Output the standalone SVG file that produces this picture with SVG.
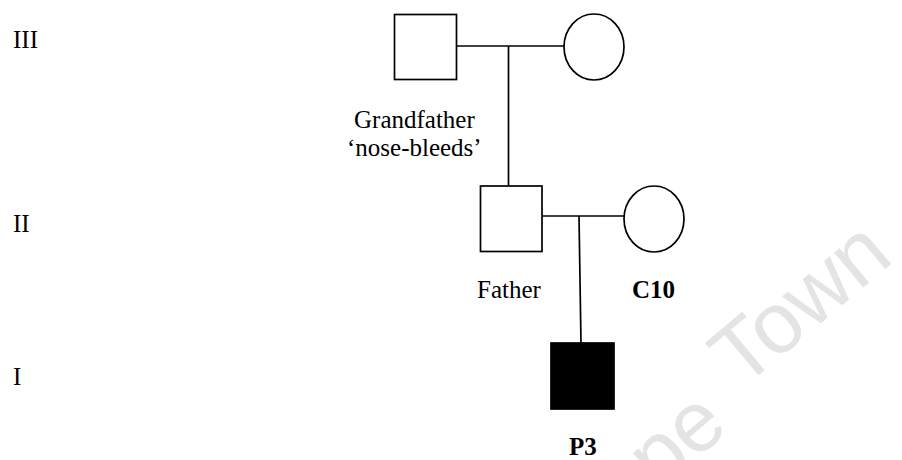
<svg xmlns="http://www.w3.org/2000/svg" width="902" height="460" viewBox="0 0 902 460">
  <style>
    .sym { fill: #fff; stroke: #000; stroke-width: 1.7; }
    .aff { fill: #000; stroke: #000; stroke-width: 1.7; }
    .line { stroke: #000; stroke-width: 1.7; fill: none; }
    .t { font-family: "Liberation Serif", "Times New Roman", serif; font-size: 25px; fill: #000; }
    .b { font-weight: bold; }
    .wm { font-family: "Liberation Sans", Arial, sans-serif; font-size: 86px; fill: #e4e4e4; }
  </style>
  <rect width="902" height="460" fill="#fff"/>
  <!-- faint watermark -->
  <g id="watermark">
    <text class="wm" transform="translate(741.6 389.6) rotate(-40)">Town</text>
    <text class="wm" text-anchor="end" transform="translate(731 430) rotate(-40)">pe</text>
  </g>

  <!-- generation labels -->
  <g id="gen-labels">
    <text class="t" x="13" y="48">III</text>
    <text class="t" x="13" y="232">II</text>
    <text class="t" x="13" y="385">I</text>
  </g>

  <!-- connectors -->
  <g id="connectors">
    <line class="line" x1="457" y1="46" x2="564" y2="46"/>
    <line class="line" x1="508.5" y1="46" x2="508.5" y2="186"/>
    <line class="line" x1="542" y1="216" x2="624" y2="216"/>
    <line class="line" x1="579" y1="216" x2="581" y2="343"/>
  </g>

  <g id="grandfather">
    <rect class="sym" x="394.5" y="14.5" width="62" height="65"/>
    <text class="t" x="354" y="128">Grandfather</text>
    <text class="t" x="347" y="156">‘nose-bleeds’</text>
  </g>
  <g id="grandmother">
    <ellipse class="sym" cx="594" cy="47" rx="30" ry="33"/>
  </g>
  <g id="father">
    <rect class="sym" x="480.5" y="186" width="61.5" height="65.5"/>
    <text class="t" x="477" y="298">Father</text>
  </g>
  <g id="mother-c10">
    <ellipse class="sym" cx="654" cy="219" rx="30" ry="33"/>
    <text class="t b" x="632" y="298">C10</text>
  </g>
  <g id="proband-p3">
    <rect class="aff" x="551" y="343" width="63" height="66"/>
    <text class="t b" x="569" y="455">P3</text>
  </g>
</svg>
